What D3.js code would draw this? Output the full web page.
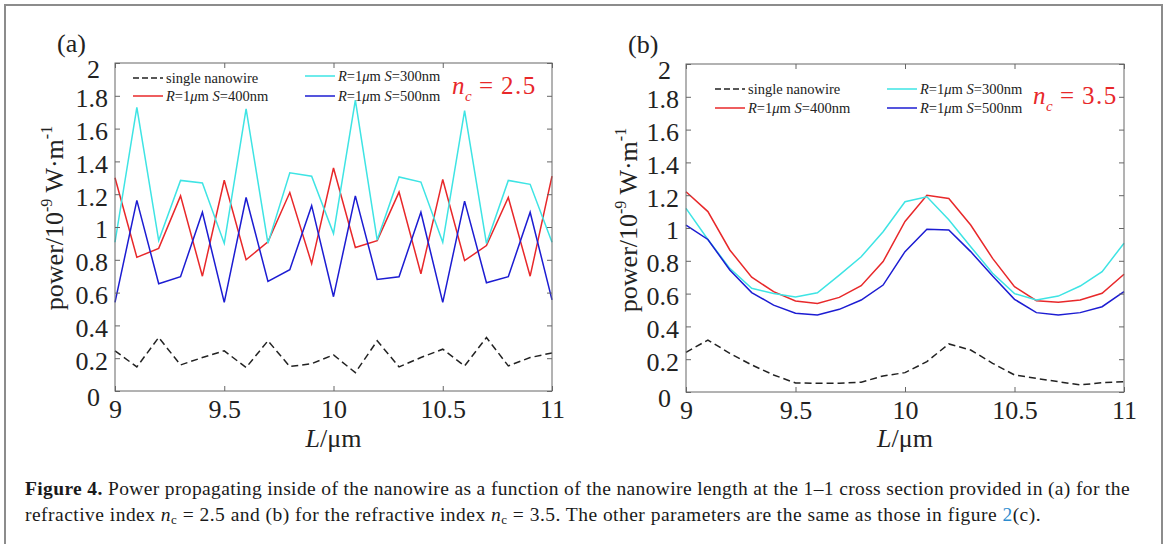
<!DOCTYPE html>
<html>
<head>
<meta charset="utf-8">
<script src="https://cdn.jsdelivr.net/npm/d3@7"></script>
<style>
  body { margin: 0; background: #fff; }
  svg { display: block; font-family: "Liberation Serif", "Times New Roman", serif; }
</style>
</head>
<body>
<svg id="fig" width="1168" height="544"></svg>
<script>
// nanowire length (um), same grid for both panels
const lengthUm = [9, 9.1, 9.2, 9.3, 9.4, 9.5, 9.6, 9.7, 9.8, 9.9, 10, 10.1, 10.2, 10.3, 10.4, 10.5, 10.6, 10.7, 10.8, 10.9, 11]

// (a) n_c = 2.5
const singleA = [0.245, 0.147, 0.326, 0.159, 0.204, 0.245, 0.143, 0.306, 0.149, 0.167, 0.22, 0.112, 0.306, 0.147, 0.204, 0.255, 0.153, 0.326, 0.153, 0.204, 0.232]
const s400A = [1.30, 0.815, 0.87, 1.19, 0.70, 1.285, 0.80, 0.91, 1.21, 0.777, 1.36, 0.875, 0.917, 1.213, 0.715, 1.29, 0.795, 0.887, 1.18, 0.70, 1.31]
const s300A = [0.907, 1.73, 0.917, 1.284, 1.268, 0.90, 1.72, 0.90, 1.33, 1.31, 0.96, 1.774, 0.92, 1.305, 1.274, 0.907, 1.71, 0.90, 1.284, 1.26, 0.907]
const s500A = [0.54, 1.162, 0.654, 0.697, 1.09, 0.54, 1.18, 0.668, 0.74, 1.13, 0.575, 1.19, 0.68, 0.697, 1.09, 0.54, 1.158, 0.66, 0.697, 1.09, 0.556]

// (b) n_c = 3.5
const singleB = [0.242, 0.317, 0.236, 0.165, 0.104, 0.055, 0.053, 0.053, 0.06, 0.098, 0.118, 0.185, 0.293, 0.256, 0.175, 0.104, 0.083, 0.063, 0.043, 0.057, 0.063]
const s400B = [1.221, 1.10, 0.866, 0.70, 0.612, 0.555, 0.54, 0.577, 0.648, 0.795, 1.04, 1.20, 1.18, 1.018, 0.815, 0.642, 0.557, 0.547, 0.561, 0.602, 0.718]
const s300B = [1.12, 0.93, 0.754, 0.632, 0.60, 0.58, 0.605, 0.713, 0.825, 0.977, 1.16, 1.19, 1.05, 0.886, 0.724, 0.60, 0.561, 0.585, 0.646, 0.734, 0.907]
const s500B = [1.018, 0.93, 0.744, 0.606, 0.53, 0.48, 0.47, 0.504, 0.561, 0.652, 0.856, 0.992, 0.988, 0.856, 0.707, 0.565, 0.484, 0.47, 0.484, 0.52, 0.612]

const xTicks = [9, 9.5, 10, 10.5, 11]
const yTicks = [0, 0.2, 0.4, 0.6, 0.8, 1, 1.2, 1.4, 1.6, 1.8, 2]

const series = [
    { key: "single", label: "single nanowire", color: "#222", dash: "7,4" },
    { key: "s400", label: "400", color: "#e8282a", dash: null },
    { key: "s300", label: "300", color: "#3ee4e4", dash: null },
    { key: "s500", label: "500", color: "#1c1cd2", dash: null },
]

const panels = [
    {
        tag: "(a)",
        data: { single: singleA, s400: s400A, s300: s300A, s500: s500A },
        x0: 115, x1: 552, y0: 63, y1: 391,
        tagPos: [57, 52], ylab: [63, 218], nc: "2.5", ncPos: [452, 94],
        legCols: [133, 305], legRows: { single: [0, 78], s400: [0, 96], s300: [1, 76], s500: [1, 96] }
    },
    {
        tag: "(b)",
        data: { single: singleB, s400: s400B, s300: s300B, s500: s500B },
        x0: 686, x1: 1124, y0: 64, y1: 392,
        tagPos: [628, 53], ylab: [637, 220], nc: "3.5", ncPos: [1033, 104],
        legCols: [715, 887], legRows: { single: [0, 89], s400: [0, 108], s300: [1, 89], s500: [1, 108] }
    }
]

const svg = d3.select("#fig")

// outer frame
svg.append("rect")
    .attr("x", 5).attr("y", 5)
    .attr("width", 1157).attr("height", 580)
    .attr("fill", "none")
    .attr("stroke", "#8c8c8c")
    .attr("stroke-width", 2)

const fmt = d3.format("~g")

panels.forEach(p => {
    const x = d3.scaleLinear().domain([9, 11]).range([p.x0, p.x1])
    const y = d3.scaleLinear().domain([0, 2]).range([p.y1, p.y0])
    const g = svg.append("g")

    // lines
    const line = d3.line()
        .x((d, i) => x(lengthUm[i]))
        .y(d => y(d))

    series.forEach(s => {
        g.append("path")
            .datum(p.data[s.key])
            .attr("d", line)
            .attr("fill", "none")
            .attr("stroke", s.color)
            .attr("stroke-width", 1.5)
            .attr("stroke-dasharray", s.dash)
    })

    // axes: ticks inward on all four sides
    const left = g.append("g")
        .attr("transform", `translate(${p.x0},0)`)
        .call(d3.axisLeft(y).tickValues(yTicks).tickSize(-5).tickPadding(7).tickFormat(fmt))
    const bottom = g.append("g")
        .attr("transform", `translate(0,${p.y1})`)
        .call(d3.axisBottom(x).tickValues(xTicks).tickSize(-5).tickPadding(9).tickFormat(fmt))
    g.append("g")
        .attr("transform", `translate(${p.x1},0)`)
        .call(d3.axisRight(y).tickValues(yTicks).tickSize(-5).tickFormat(""))
    g.append("g")
        .attr("transform", `translate(0,${p.y0})`)
        .call(d3.axisTop(x).tickValues(xTicks).tickSize(-5).tickFormat(""))

    g.selectAll(".domain").remove()
    g.selectAll(".tick line").attr("stroke", "#666")
    g.selectAll(".tick text")
        .attr("font-family", "'Liberation Serif', 'Times New Roman', serif")
        .attr("font-size", 26)
        .attr("fill", "#222")

    left.selectAll(".tick text").attr("dy", "0.42em")
    left.selectAll(".tick text").filter(d => d === 0 || d === 2)
        .attr("dx", -8).attr("dy", "0.55em")
    bottom.selectAll(".tick text").attr("dy", "0.69em")

    g.append("rect")
        .attr("x", p.x0).attr("y", p.y0)
        .attr("width", p.x1 - p.x0).attr("height", p.y1 - p.y0)
        .attr("fill", "none")
        .attr("stroke", "#666")
        .attr("stroke-width", 1)

    // panel tag
    g.append("text")
        .attr("x", p.tagPos[0]).attr("y", p.tagPos[1])
        .attr("font-size", 26)
        .attr("fill", "#222")
        .text(p.tag)

    // y label
    const yl = g.append("text")
        .attr("transform", `translate(${p.ylab[0]},${p.ylab[1]}) rotate(-90)`)
        .attr("text-anchor", "middle")
        .attr("font-size", 26)
        .attr("fill", "#222")
    yl.append("tspan").text("power/10")
    yl.append("tspan").attr("font-size", 16).attr("dy", -11).text("-9")
    yl.append("tspan").attr("dy", 11).text(" W\u00b7m")
    yl.append("tspan").attr("font-size", 16).attr("dy", -11).text("-1")

    // x label
    const xl = g.append("text")
        .attr("x", (p.x0 + p.x1) / 2).attr("y", 447)
        .attr("text-anchor", "middle")
        .attr("font-size", 26)
        .attr("fill", "#222")
    xl.append("tspan").attr("font-style", "italic").text("L")
    xl.append("tspan").text("/\u03bcm")

    // legend
    series.forEach(s => {
        const [col, ly] = p.legRows[s.key]
        const lx = p.legCols[col]
        g.append("line")
            .attr("x1", lx).attr("x2", lx + 30)
            .attr("y1", ly).attr("y2", ly)
            .attr("stroke", s.color)
            .attr("stroke-width", 1.5)
            .attr("stroke-dasharray", s.dash ? "6,3" : null)
        const t = g.append("text")
            .attr("x", lx + 33).attr("y", ly + 5)
            .attr("font-size", 14.5)
            .attr("fill", "#222")
        if (s.key === "single") {
            t.text(s.label)
        } else {
            t.append("tspan").attr("font-style", "italic").text("R")
            t.append("tspan").text("=1")
            t.append("tspan").attr("font-style", "italic").text("\u03bc")
            t.append("tspan").text("m ")
            t.append("tspan").attr("font-style", "italic").text("S")
            t.append("tspan").text(`=${s.label}nm`)
        }
    })

    // n_c annotation
    const [nx, ny] = p.ncPos
    const nc = g.append("g").attr("fill", "#e8282a")
    nc.append("text").attr("x", nx).attr("y", ny)
        .attr("font-size", 25).attr("font-style", "italic").text("n")
    nc.append("text").attr("x", nx + 13).attr("y", ny + 7)
        .attr("font-size", 15).attr("font-style", "italic").text("c")
    nc.append("text").attr("x", nx + 27).attr("y", ny)
        .attr("font-size", 25).text("=")
    nc.append("text").attr("x", nx + 49).attr("y", ny)
        .attr("font-size", 25).attr("letter-spacing", 1.5).text(p.nc)
})

// caption
const cap = svg.append("g").attr("fill", "#1a1a1a")

const line1 = cap.append("text").attr("x", 25).attr("y", 495).attr("font-size", 19.5)
line1.append("tspan").attr("font-weight", "bold").text("Figure 4.")
line1.append("tspan").text(" Power propagating inside of the nanowire as a function of the nanowire length at the 1\u20131 cross section provided in (a) for the")

const line2 = cap.append("text").attr("x", 25).attr("y", 521).attr("font-size", 19.5)
line2.append("tspan").text("refractive index ")
line2.append("tspan").attr("font-style", "italic").text("n")
line2.append("tspan").attr("font-size", 13).attr("dy", 3).text("c")
line2.append("tspan").attr("dy", -3).text(" =  2.5 and (b) for the refractive index ")
line2.append("tspan").attr("font-style", "italic").text("n")
line2.append("tspan").attr("font-size", 13).attr("dy", 3).text("c")
line2.append("tspan").attr("dy", -3).text(" =  3.5. The other parameters are the same as those in figure ")
line2.append("tspan").attr("fill", "#2b8ccf").text("2")
line2.append("tspan").text("(c).")

// stretch caption lines to the widths seen in the figure
function fitWidth(sel, target) {
    const natural = sel.node().getComputedTextLength()
    const chars = sel.text().length
    sel.attr("letter-spacing", (target - natural) / chars)
}
fitWidth(line1, 1105)
fitWidth(line2, 1017)
</script>
</body>
</html>
